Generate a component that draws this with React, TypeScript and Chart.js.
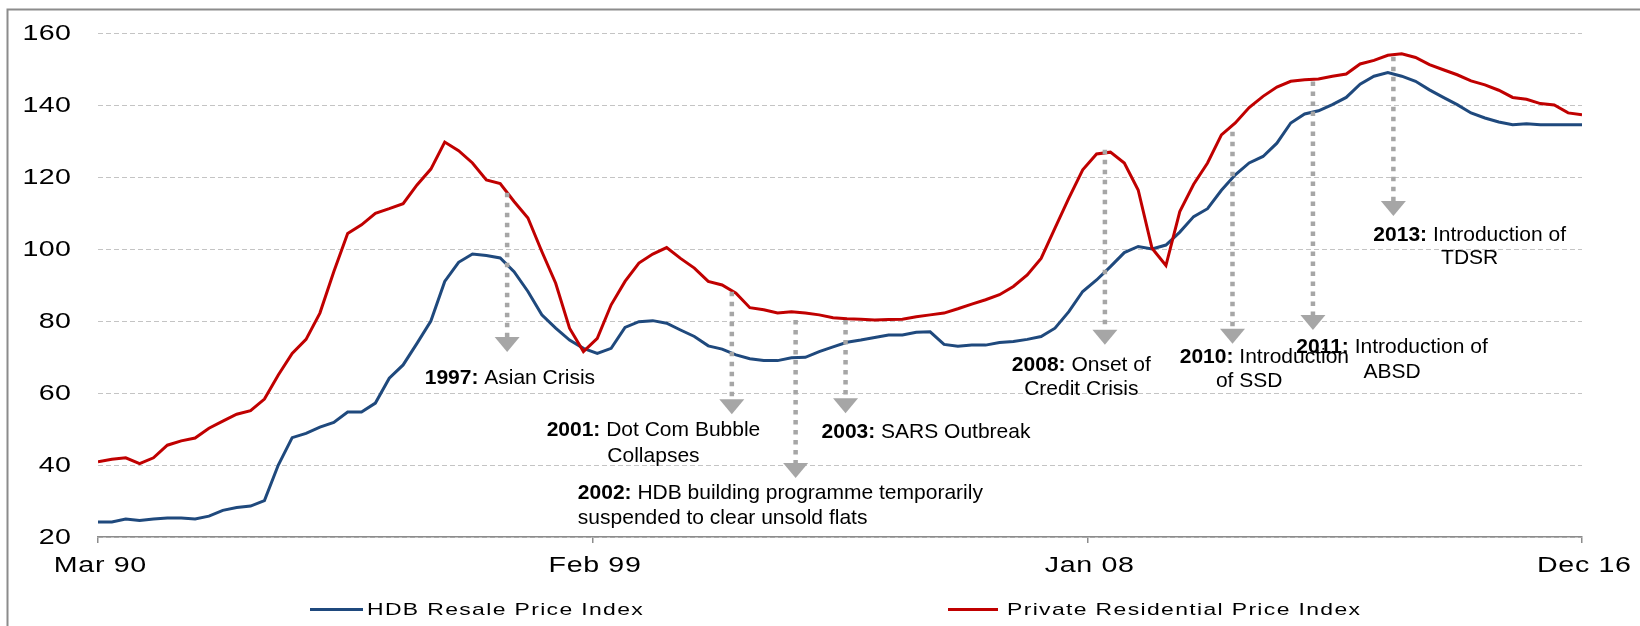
import React, { useEffect, useRef } from 'react';
import { Chart, registerables } from 'chart.js';

Chart.register(...registerables);

// Quarterly index values, Q1 1990 (Mar 90) .. Q4 2016 (Dec 16)
const hdbResale: number[] = [
  24.2, 24.2, 25.0, 24.6, 25.0, 25.3, 25.3, 25.0, 25.8, 27.4,
  28.2, 28.6, 30.1, 40.0, 47.6, 48.8, 50.5, 51.8, 54.7, 54.7,
  57.2, 64.1, 67.8, 73.8, 80.0, 91.0, 96.3, 98.6, 98.2, 97.5,
  93.7, 88.2, 81.7, 78.0, 74.7, 72.4, 71.0, 72.4, 78.2, 79.8,
  80.1, 79.4, 77.5, 75.7, 73.1, 72.2, 70.6, 69.5, 69.0, 69.0,
  69.8, 69.9, 71.5, 72.8, 74.1, 74.7, 75.4, 76.1, 76.1, 76.9,
  77.0, 73.5, 73.0, 73.3, 73.3, 74.0, 74.3, 74.9, 75.7, 78.0,
  82.6, 88.2, 91.4, 95.1, 99.0, 100.7, 100.0, 101.1, 104.7, 109.0,
  111.2, 116.3, 120.6, 123.9, 125.7, 129.4, 135.0, 137.5, 138.4, 140.1,
  142.1, 145.8, 148.0, 149.0, 148.0, 146.6, 144.2, 142.1, 140.1, 137.8,
  136.4, 135.3, 134.5, 134.8, 134.5, 134.5, 134.5, 134.5,
];

const privateResidential: number[] = [
  40.9, 41.6, 42.0, 40.4, 42.0, 45.5, 46.7, 47.5, 50.2, 52.2,
  54.1, 55.1, 58.3, 65.0, 71.0, 74.9, 82.2, 93.7, 104.3, 106.7,
  109.9, 111.2, 112.6, 117.8, 122.2, 129.7, 127.3, 123.9, 119.2, 118.2,
  113.2, 108.6, 99.3, 90.5, 78.0, 71.5, 75.2, 84.5, 91.0, 96.1,
  98.6, 100.4, 97.4, 94.7, 91.0, 90.0, 87.7, 83.7, 83.1, 82.2,
  82.6, 82.2, 81.7, 80.9, 80.6, 80.5, 80.3, 80.4, 80.5, 81.2,
  81.7, 82.2, 83.4, 84.7, 85.9, 87.3, 89.6, 92.8, 97.4, 105.8,
  114.1, 122.0, 126.4, 126.9, 123.9, 116.4, 100.2, 95.4, 110.4, 118.0,
  123.9, 131.7, 135.0, 139.3, 142.4, 145.0, 146.6, 147.0, 147.2, 148.0,
  148.6, 151.4, 152.4, 153.8, 154.2, 153.2, 151.2, 149.8, 148.4, 146.7,
  145.6, 144.1, 142.1, 141.6, 140.4, 140.0, 137.8, 137.3,
];

const xTickLabels: string[] = ['Mar 90', 'Feb 99', 'Jan 08', 'Dec 16'];
const yMin = 20;
const yMax = 160;
const yStep = 20;
const seriesNames: string[] = ['HDB Resale Price Index', 'Private Residential Price Index'];
const seriesColors: string[] = ['#1F497D', '#C00000'];

// Event annotations, placed in data units (quarter index, index value)
type Line = { x: number; y: number; align: 'left' | 'center'; bold: string; text: string };
type EventNote = { x: number; from: number; to: number; lines: Line[] };
const events: EventNote[] = [
  { x: 29.5, from: 115.6, to: 71.4, lines: [
    { x: 29.7, y: 64.2, align: 'center', bold: '1997:', text: ' Asian Crisis' },
  ] },
  { x: 45.7, from: 88.1, to: 54.1, lines: [
    { x: 40.05, y: 49.7, align: 'center', bold: '2001:', text: ' Dot Com Bubble' },
    { x: 40.05, y: 42.5, align: 'center', bold: '', text: 'Collapses' },
  ] },
  { x: 50.3, from: 80.3, to: 36.4, lines: [
    { x: 34.6, y: 32.2, align: 'left', bold: '2002:', text: ' HDB building programme temporarily' },
    { x: 34.6, y: 25.3, align: 'left', bold: '', text: 'suspended to clear unsold flats' },
  ] },
  { x: 53.9, from: 80.3, to: 54.4, lines: [
    { x: 59.7, y: 49.1, align: 'center', bold: '2003:', text: ' SARS Outbreak' },
  ] },
  { x: 72.6, from: 127.6, to: 73.4, lines: [
    { x: 70.9, y: 67.8, align: 'center', bold: '2008:', text: ' Onset of' },
    { x: 70.9, y: 61.1, align: 'center', bold: '', text: 'Credit Crisis' },
  ] },
  { x: 81.8, from: 132.6, to: 73.7, lines: [
    { x: 84.1, y: 70.0, align: 'center', bold: '2010:', text: ' Introduction' },
    { x: 83.0, y: 63.3, align: 'center', bold: '', text: 'of SSD' },
  ] },
  { x: 87.6, from: 146.5, to: 77.5, lines: [
    { x: 93.3, y: 72.8, align: 'center', bold: '2011:', text: ' Introduction of' },
    { x: 93.3, y: 65.8, align: 'center', bold: '', text: 'ABSD' },
  ] },
  { x: 93.4, from: 153.4, to: 109.2, lines: [
    { x: 98.9, y: 103.9, align: 'center', bold: '2013:', text: ' Introduction of' },
    { x: 98.9, y: 97.5, align: 'center', bold: '', text: 'TDSR' },
  ] },
];

const FONT = '"Liberation Sans", Arial, Helvetica, sans-serif';
const ARROW = '#A6A6A6';

function stretchText(
  ctx: CanvasRenderingContext2D, text: string, x: number, y: number,
  align: 'left' | 'right' | 'center', font: string, sx: number, spacing: number, color: string,
) {
  ctx.save();
  ctx.font = font;
  ctx.fillStyle = color;
  ctx.textBaseline = 'middle';
  ctx.textAlign = 'left';
  const c = ctx as any;
  const supported = 'letterSpacing' in c;
  if (supported) c.letterSpacing = '0px';
  const w0 = ctx.measureText(text).width;
  const vis = sx * (w0 + (supported ? (text.length - 1) * spacing : 0));
  const start = align === 'left' ? x : align === 'right' ? x - vis : x - vis / 2;
  ctx.translate(start, y);
  ctx.scale(sx, 1);
  if (supported) c.letterSpacing = spacing + 'px';
  ctx.fillText(text, 0, 0);
  ctx.restore();
}

const customPlugin = {
  id: 'customDecor',
  beforeDraw(chart: any) {
    const ctx: CanvasRenderingContext2D = chart.ctx;
    ctx.save();
    ctx.strokeStyle = '#8C8C8C';
    ctx.lineWidth = 2;
    ctx.strokeRect(7.5, 9.5, chart.width + 40, chart.height + 40);
    ctx.restore();
  },
  afterDatasetsDraw(chart: any) {
    const ctx: CanvasRenderingContext2D = chart.ctx;
    const xs = chart.scales.x;
    const ys = chart.scales.y;
    const headH = 15;
    const headW = 25;
    events.forEach((ev) => {
      const px = xs.getPixelForValue(ev.x);
      const y1 = ys.getPixelForValue(ev.from);
      const y2 = ys.getPixelForValue(ev.to);
      ctx.save();
      ctx.strokeStyle = ARROW;
      ctx.lineWidth = 4.5;
      ctx.setLineDash([4.5, 5.5]);
      ctx.beginPath();
      ctx.moveTo(px, y1);
      ctx.lineTo(px, y2 - headH);
      ctx.stroke();
      ctx.setLineDash([]);
      ctx.fillStyle = ARROW;
      ctx.beginPath();
      ctx.moveTo(px - headW / 2, y2 - headH);
      ctx.lineTo(px + headW / 2, y2 - headH);
      ctx.lineTo(px, y2);
      ctx.closePath();
      ctx.fill();
      ctx.restore();

      ev.lines.forEach((ln) => {
        const lx = xs.getPixelForValue(ln.x);
        const ly = ys.getPixelForValue(ln.y);
        const boldFont = `bold 21px ${FONT}`;
        const normFont = `21px ${FONT}`;
        ctx.save();
        ctx.textBaseline = 'middle';
        ctx.textAlign = 'left';
        ctx.fillStyle = '#000';
        ctx.font = boldFont;
        const wb = ln.bold ? ctx.measureText(ln.bold).width : 0;
        ctx.font = normFont;
        const wn = ctx.measureText(ln.text).width;
        const start = ln.align === 'left' ? lx : lx - (wb + wn) / 2;
        if (ln.bold) {
          ctx.font = boldFont;
          ctx.fillText(ln.bold, start, ly);
        }
        ctx.font = normFont;
        ctx.fillText(ln.text, start + wb, ly);
        ctx.restore();
      });
    });
  },
  afterDraw(chart: any) {
    const ctx: CanvasRenderingContext2D = chart.ctx;
    const xs = chart.scales.x;
    const ys = chart.scales.y;
    const area = chart.chartArea;
    const axisFont = `22px ${FONT}`;
    ys.ticks.forEach((t: any) => {
      const py = ys.getPixelForValue(t.value);
      stretchText(ctx, String(t.value), area.left - 27, py + 0.5, 'right', axisFont, 1.3, 0.3, '#000');
    });
    xs.ticks.forEach((t: any, k: number) => {
      const px = xs.getPixelForValue(t.value);
      stretchText(ctx, xTickLabels[k] ?? '', px + 2, area.bottom + 29, 'center', axisFont, 1.3, 0.5, '#000');
    });
    // legend
    const legendY = 609.5;
    const legendItems = [
      { x1: 310, x2: 363, tx: 367 },
      { x1: 948, x2: 998, tx: 1007 },
    ];
    legendItems.forEach((it, k) => {
      ctx.save();
      ctx.strokeStyle = seriesColors[k];
      ctx.lineWidth = 3;
      ctx.beginPath();
      ctx.moveTo(it.x1, legendY);
      ctx.lineTo(it.x2, legendY);
      ctx.stroke();
      ctx.restore();
      stretchText(ctx, seriesNames[k], it.tx, legendY + 0.5, 'left', `17px ${FONT}`, 1.35, 1.0, '#000');
    });
  },
};

export default function App() {
  const ref = useRef<HTMLCanvasElement>(null);
  useEffect(() => {
    const canvas = ref.current;
    if (!canvas) return;
    const n = hdbResale.length;
    const chart = new Chart(canvas, {
      type: 'line',
      data: {
        datasets: [
          {
            label: seriesNames[1],
            data: privateResidential.map((v, i) => ({ x: i, y: v })),
            borderColor: seriesColors[1],
            backgroundColor: seriesColors[1],
            borderWidth: 3,
            pointRadius: 0,
            tension: 0,
            order: 1,
          },
          {
            label: seriesNames[0],
            data: hdbResale.map((v, i) => ({ x: i, y: v })),
            borderColor: seriesColors[0],
            backgroundColor: seriesColors[0],
            borderWidth: 3,
            pointRadius: 0,
            tension: 0,
            order: 2,
          },
        ],
      },
      options: {
        responsive: false,
        animation: false,
        devicePixelRatio: 1,
        layout: { padding: { left: 0, right: 58, top: 33, bottom: 0 } },
        plugins: {
          legend: { display: false },
          tooltip: { enabled: false },
        },
        scales: {
          x: {
            type: 'linear',
            min: 0,
            max: n - 1,
            afterBuildTicks: (scale: any) => {
              const m = xTickLabels.length - 1;
              scale.ticks = xTickLabels.map((_, k) => ({ value: (k * (n - 1)) / m }));
            },
            afterFit: (scale: any) => { scale.height = 89; },
            ticks: { display: false },
            grid: {
              display: true,
              drawOnChartArea: false,
              drawTicks: true,
              tickLength: 6,
              color: '#8C8C8C',
              lineWidth: 1.5,
            },
            border: { display: true, color: '#8C8C8C', width: 1.5 },
          },
          y: {
            type: 'linear',
            min: yMin,
            max: yMax,
            afterFit: (scale: any) => { scale.width = 98; },
            ticks: { display: false, stepSize: yStep },
            grid: { display: true, drawTicks: false, color: '#C4C4C4', lineWidth: 1 },
            border: { display: false, dash: [5, 3] },
          },
        },
      },
      plugins: [customPlugin],
    } as any);
    return () => chart.destroy();
  }, []);
  return (
    <div style={{ position: 'fixed', left: 0, top: 0, width: 1640, height: 626, background: '#fff' }}>
      <canvas ref={ref} width={1640} height={626} style={{ display: 'block', width: 1640, height: 626 }} />
    </div>
  );
}
